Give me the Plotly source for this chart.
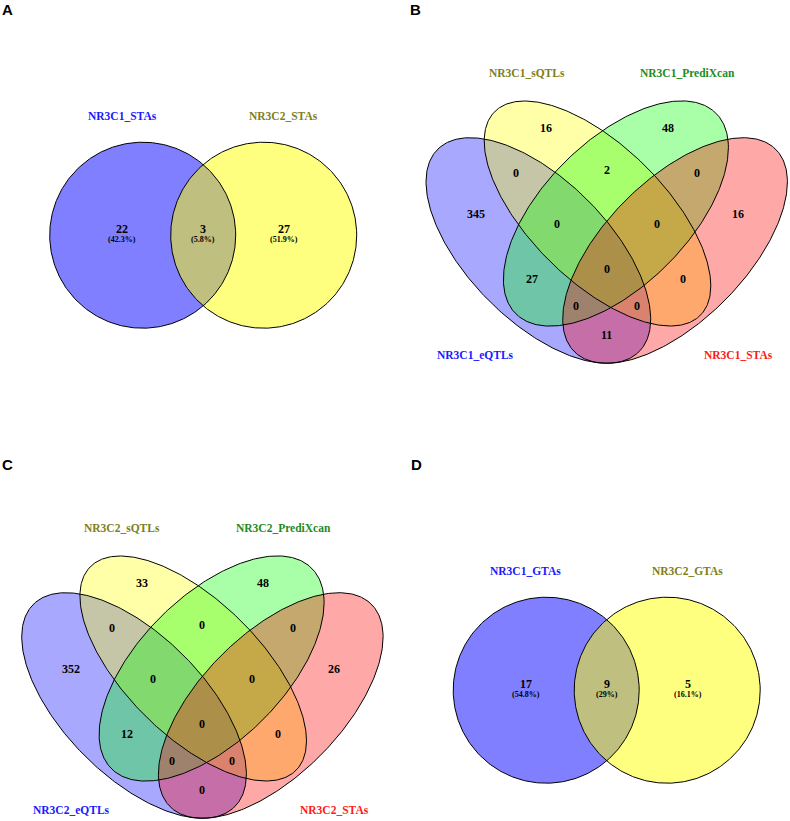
import numpy as np
import plotly.graph_objects as go

# ---------------- data ----------------
panel_letters = ["A", "B", "C", "D"]

# two-set Venn diagrams (regions: only set 1, both, only set 2)
A_sets = ["NR3C1_STAs", "NR3C2_STAs"]
A_counts = [22, 3, 27]
D_sets = ["NR3C1_GTAs", "NR3C2_GTAs"]
D_counts = [17, 9, 5]

# four-set Venn diagrams (e = eQTLs, s = sQTLs, p = PrediXcan, t = STAs)
B_sets = ["NR3C1_eQTLs", "NR3C1_sQTLs", "NR3C1_PrediXcan", "NR3C1_STAs"]
C_sets = ["NR3C2_eQTLs", "NR3C2_sQTLs", "NR3C2_PrediXcan", "NR3C2_STAs"]
quad_regions = ["s", "p", "e+s", "s+p", "p+t", "e", "t", "e+s+p", "s+p+t",
                "e+s+p+t", "e+p", "s+t", "e+p+t", "e+s+t", "e+t"]
B_counts = [16, 48, 0, 2, 0, 345, 16, 0, 0, 0, 27, 0, 0, 0, 11]
C_counts = [33, 48, 0, 0, 0, 352, 26, 0, 0, 0, 12, 0, 0, 0, 0]

# ---------------- layout / styles ----------------
W, H = 790, 821
SERIF = "Liberation Serif"
SANS = "Liberation Sans"

letter_pos = {"A": (7.5, 9.5), "B": (415, 9.5), "C": (7, 464), "D": (416, 464)}

# two-set geometry (relative to panel origin)
pair_origin = {"A": (0, 0), "D": (403.5, 455)}
pair_circles = [(142.7, 235.2), (263.7, 235.2)]
pair_r = 93
pair_fill = ["rgba(0,0,255,0.5)", "rgba(255,255,0,0.5)"]
pair_label_pos = [(122.3, 116.3), (283.7, 116.3)]
pair_label_col = ["#1a1aff", "#80801a"]
pair_count_x = [122.3, 203.2, 284.0]
pair_count_y, pair_pct_y = 229.0, 239.3

# four-set geometry (relative to panel origin); ellipse covariance-like A,B,C
quad_origin = {"B": (395, 0), "C": (-9.3, 455)}
quad_ellipses = [  # order: e, s, p, t
    dict(c=(143.35, 250.5), A=12622, B=12724, C=7710, fill="rgba(0,0,255,0.34)"),
    dict(c=(202.5, 213.5), A=12837, B=12656, C=8200, fill="rgba(255,255,0,0.34)"),
    dict(c=(220.9, 213.5), A=12656, B=12679, C=-7409, fill="rgba(0,255,0,0.34)"),
    dict(c=(280.05, 250.5), A=12622, B=12724, C=-7710, fill="rgba(255,0,0,0.34)"),
]
quad_label_pos = [(80.3, 355), (131.5, 73.3), (292.3, 73.3), (343.3, 355)]
quad_label_col = ["#1a1aff", "#80801a", "#1e8c1e", "#ff1a1a"]
quad_count_pos = {
    "s": (151, 128.3), "p": (272.7, 128.3), "e+s": (121, 173.3),
    "s+p": (211.7, 170), "p+t": (302.3, 173.3), "e": (80.7, 214.3),
    "t": (343.3, 214.3), "e+s+p": (162.3, 224), "s+p+t": (261.7, 223.5),
    "e+s+p+t": (211.7, 269.3), "e+p": (136.7, 279.3), "s+t": (287.7, 279.3),
    "e+p+t": (181, 305.7), "e+s+t": (241.7, 305.7), "e+t": (211.7, 335),
}

fig = go.Figure()
annotations = []


def add_text(x, y, text, size, color="black", family=SERIF, bold=True):
    annotations.append(dict(
        x=x, y=y, xref="x", yref="y", text=text, showarrow=False,
        xanchor="center", yanchor="middle",
        font=dict(family=family, size=size, color=color,
                  weight="bold" if bold else "normal")))


t = np.linspace(0, 2 * np.pi, 361)


def circle_pts(cx, cy, r):
    return cx + r * np.cos(t), cy + r * np.sin(t)


def ellipse_pts(cx, cy, A, B, C):
    L = np.linalg.cholesky(np.array([[A, C], [C, B]], dtype=float))
    pts = L @ np.vstack([np.cos(t), np.sin(t)])
    return cx + pts[0], cy + pts[1]


outlines = []

# two-set panels
for key, sets, counts in [("A", A_sets, A_counts), ("D", D_sets, D_counts)]:
    ox, oy = pair_origin[key]
    for (cx, cy), fc in zip(pair_circles, pair_fill):
        xs, ys = circle_pts(cx + ox, cy + oy, pair_r)
        fig.add_trace(go.Scatter(x=xs, y=ys, mode="lines", fill="toself",
                                 fillcolor=fc, line=dict(width=0),
                                 hoverinfo="skip", showlegend=False))
        outlines.append((xs, ys))
    total = sum(counts)
    for i, c in enumerate(counts):
        pct = round(100 * c / total, 1)
        add_text(pair_count_x[i] + ox, pair_count_y + oy, str(c), 12)
        add_text(pair_count_x[i] + ox, pair_pct_y + oy, f"({pct:g}%)", 8)
    for (lx, ly), name, col in zip(pair_label_pos, sets, pair_label_col):
        add_text(lx + ox, ly + oy, name, 11.5, color=col)

# four-set panels
for key, sets, counts in [("B", B_sets, B_counts), ("C", C_sets, C_counts)]:
    ox, oy = quad_origin[key]
    for e in quad_ellipses:
        xs, ys = ellipse_pts(e["c"][0] + ox, e["c"][1] + oy, e["A"], e["B"], e["C"])
        fig.add_trace(go.Scatter(x=xs, y=ys, mode="lines", fill="toself",
                                 fillcolor=e["fill"], line=dict(width=0),
                                 hoverinfo="skip", showlegend=False))
        outlines.append((xs, ys))
    for reg, c in zip(quad_regions, counts):
        px, py = quad_count_pos[reg]
        add_text(px + ox, py + oy, str(c), 12)
    for (lx, ly), name, col in zip(quad_label_pos, sets, quad_label_col):
        add_text(lx + ox, ly + oy, name, 11.5, color=col)

for xs, ys in outlines:
    fig.add_trace(go.Scatter(x=xs, y=ys, mode="lines",
                             line=dict(color="black", width=1),
                             hoverinfo="skip", showlegend=False))

for L in panel_letters:
    lx, ly = letter_pos[L]
    add_text(lx, ly, L, 15, family=SANS)

fig.update_layout(
    width=W, height=H, autosize=False,
    margin=dict(l=0, r=0, t=0, b=0, pad=0),
    paper_bgcolor="white", plot_bgcolor="white",
    xaxis=dict(range=[0, W], visible=False, fixedrange=True),
    yaxis=dict(range=[H, 0], visible=False, fixedrange=True),
    annotations=annotations,
    showlegend=False,
)

fig.write_html(
    "out.html",
    config={"displayModeBar": False},
    post_script="document.body.style.margin='0px';document.body.style.overflow='hidden';",
)
